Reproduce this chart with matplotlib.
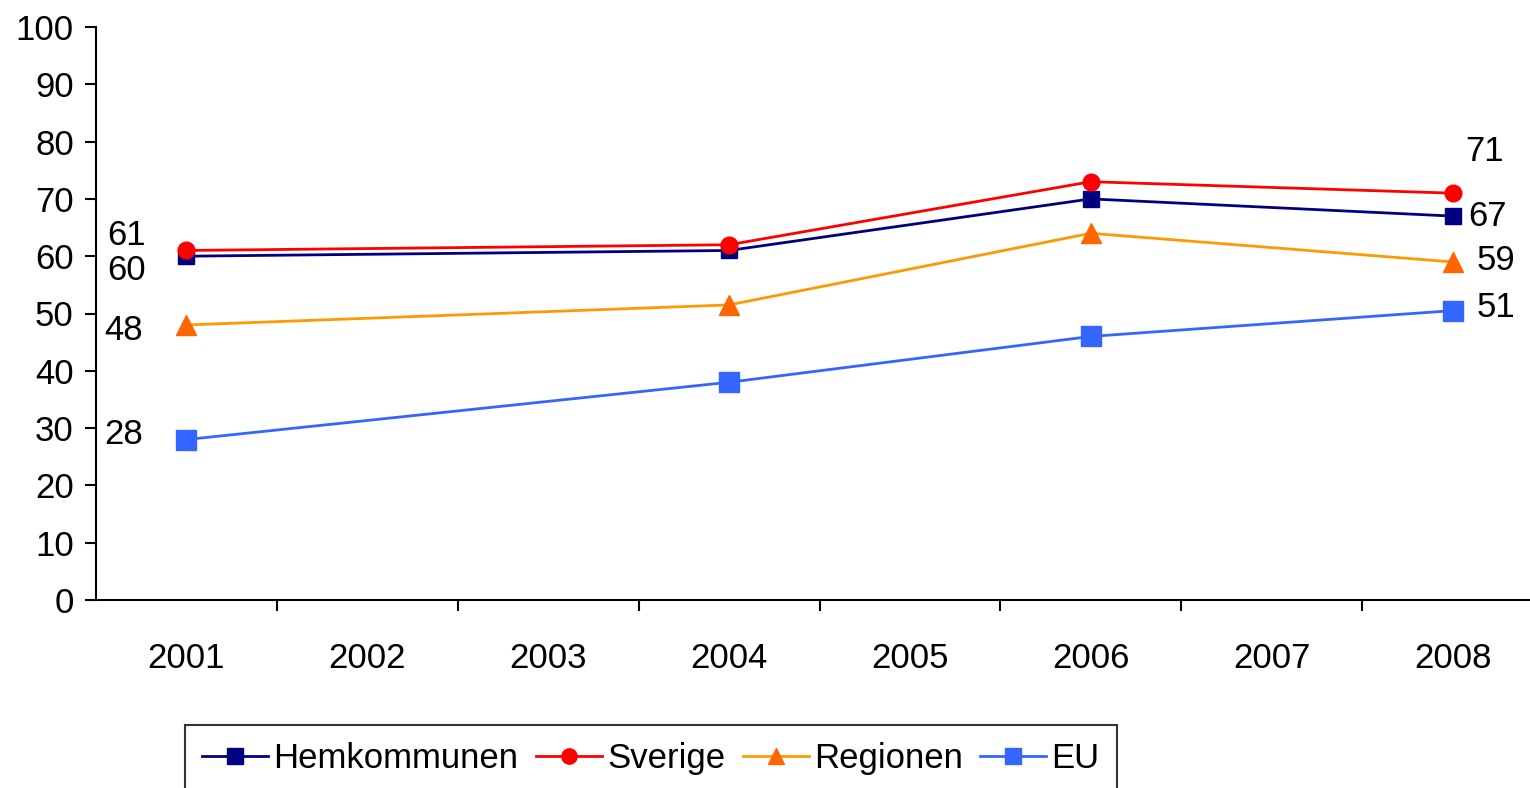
import matplotlib.pyplot as plt
import numpy as np

plt.rcParams['font.family'] = ['Liberation Sans', 'DejaVu Sans']

# ---- data ----
years = ["2001", "2002", "2003", "2004", "2005", "2006", "2007", "2008"]
survey_years = ["2001", "2004", "2006", "2008"]

hemkommunen = [60, 61, 70, 67]
sverige = [61, 62, 73, 71]
regionen = [48, 51.5, 64, 59]
eu = [28, 38, 46, 50.5]

# ---- plotting ----
fig = plt.figure(figsize=(15.3, 7.88), dpi=100)
ax = fig.add_axes([96 / 1530, 1 - 600 / 788, 1447 / 1530, 573 / 788])

xpos = [years.index(y) for y in survey_years]

ax.plot(xpos, hemkommunen, color="#000080", lw=2, marker="s", ms=11,
        mfc="#000080", mec="#000080", label="Hemkommunen", zorder=4)
ax.plot(xpos, sverige, color="#FF0000", lw=2, marker="o", ms=12,
        mfc="#FF0000", mec="#FF0000", label="Sverige", zorder=5)
ax.plot(xpos, regionen, color="#FF9900", lw=2, marker="^", ms=15,
        mfc="#FF6600", mec="#FF6600", label="Regionen", zorder=3)
ax.plot(xpos, eu, color="#3366FF", lw=2, marker="s", ms=15,
        mfc="#3366FF", mec="#3366FF", label="EU", zorder=3)

# data labels at first and last point (Excel-style placement)
fs = 25
lab_kw = dict(fontsize=fs, textcoords="offset points", va="center")
ax.annotate("61", (xpos[0], sverige[0]), xytext=(-43, 11), ha="center", **lab_kw)
ax.annotate("60", (xpos[0], hemkommunen[0]), xytext=(-43, -10), ha="center", **lab_kw)
ax.annotate("48", (xpos[0], regionen[0]), xytext=(-45, -4), ha="center", **lab_kw)
ax.annotate("28", (xpos[0], eu[0]), xytext=(-45, 4), ha="center", **lab_kw)

ax.annotate("71", (xpos[-1], sverige[-1]), xytext=(23, 30), ha="center", **lab_kw)
ax.annotate("67", (xpos[-1], hemkommunen[-1]), xytext=(25, 0), ha="center", **lab_kw)
ax.annotate("59", (xpos[-1], regionen[-1]), xytext=(31, 1), ha="center", **lab_kw)
ax.annotate("51", (xpos[-1], eu[-1]), xytext=(31, 2), ha="center", **lab_kw)

# axes
ax.set_xlim(-0.5, len(years) - 0.5)
ax.set_ylim(0, 100)
ax.set_yticks(np.arange(0, 101, 10))
ax.tick_params(axis="y", labelsize=fs, length=8, width=1.5, direction="out", pad=8)

ax.set_xticks(range(len(years)))
ax.set_xticklabels(years)
ax.set_xticks(np.arange(0.5, len(years) - 0.5, 1), minor=True)
ax.tick_params(axis="x", which="major", length=0, labelsize=fs, pad=30)
ax.tick_params(axis="x", which="minor", length=8, width=1.5, direction="out")

for side in ["top", "right"]:
    ax.spines[side].set_visible(False)
for side in ["left", "bottom"]:
    ax.spines[side].set_linewidth(1.5)

leg = fig.legend(loc="upper left", bbox_to_anchor=(185 / 1530, 1 - 725 / 788),
                 ncol=4, fontsize=fs, frameon=True, fancybox=False,
                 edgecolor="black", handlelength=1.9, handletextpad=0.15,
                 columnspacing=0.5, borderpad=0.5, borderaxespad=0)
leg.get_frame().set_linewidth(1.5)
for h in leg.legend_handles:
    h.set_markersize(11)

fig.savefig("out.png", dpi=100)
